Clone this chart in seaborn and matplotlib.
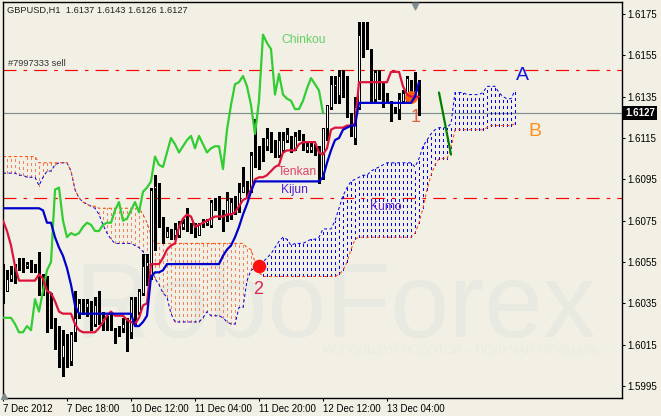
import numpy as np
import pandas as pd
import matplotlib
matplotlib.use("Agg")
import matplotlib.pyplot as plt
import seaborn as sns

# prices are kept as the last four digits, 6127 means 1.6127
opens = [6048,6041,6047,6050,6055,6055,6053,6054,6053,6053,
         6047,6040,6036,6027,6023,6009,6016,6007,6021,6030,
         6035,6033,6036,6025,6037,6026,6027,6028,6023,6022,
         6023,6026,6021,6036,6031,6040,6053,6048,6091,6093,
         6073,6067,6069,6068,6068,6072,6077,6073,6072,6068,
         6074,6074,6073,6084,6086,6077,6078,6078,6084,6083,
         6089,6091,6091,6106,6103,6111,6111,6114,6112,6107,
         6109,6114,6116,6110,6118,6116,6109,6109,6110,6111,
         6096,6120,6130,6140,6136,6145,6142,6126,6115,6130,
         6164,6161,6157,6134,6147,6138,6135,6132,6129,6129,
         6133,6136,6142,6135,6137]
highs = [6054,6051,6053,6054,6057,6057,6055,6056,6054,6060,
         6049,6048,6040,6028,6024,6022,6020,6021,6041,6037,
         6037,6037,6036,6038,6041,6031,6029,6031,6023,6024,
         6028,6028,6038,6038,6042,6059,6059,6091,6097,6093,
         6077,6072,6071,6074,6075,6076,6081,6074,6074,6074,
         6076,6076,6085,6086,6087,6080,6089,6086,6087,6093,
         6101,6094,6108,6124,6111,6115,6120,6118,6114,6118,
         6118,6120,6116,6118,6119,6117,6113,6113,6112,6111,
         6120,6131,6145,6145,6148,6148,6145,6127,6135,6171,
         6171,6171,6158,6148,6148,6142,6137,6133,6130,6137,
         6138,6145,6143,6147,6143]
lows = [6035,6041,6046,6045,6051,6050,6052,6050,6050,6039,
        6039,6021,6023,6013,6004,6000,6004,6005,6017,6028,
        6030,6029,6022,6024,6025,6022,6022,6022,6016,6019,
        6021,6012,6018,6025,6030,6039,6044,6047,6061,6072,
        6064,6067,6066,6066,6067,6071,6070,6069,6067,6068,
        6072,6073,6072,6080,6076,6070,6075,6076,6078,6079,
        6089,6086,6089,6101,6100,6104,6109,6108,6106,6106,
        6108,6113,6108,6109,6114,6109,6108,6108,6107,6093,
        6095,6114,6129,6132,6132,6135,6125,6116,6112,6129,
        6154,6158,6133,6133,6134,6130,6133,6123,6127,6124,
        6132,6132,6135,6134,6126]
closes = [6040,6047,6049,6049,6053,6051,6054,6052,6052,6045,
          6043,6036,6028,6021,6008,6015,6007,6020,6028,6035,
          6033,6035,6024,6034,6027,6028,6025,6023,6021,6021,
          6025,6021,6037,6030,6041,6053,6055,6090,6092,6073,
          6066,6070,6067,6071,6072,6074,6073,6070,6069,6073,
          6074,6075,6084,6084,6077,6074,6085,6084,6079,6089,
          6092,6091,6107,6101,6100,6111,6115,6110,6107,6114,
          6114,6117,6109,6116,6115,6110,6111,6111,6110,6095,
          6120,6131,6141,6141,6145,6142,6126,6121,6130,6165,
          6160,6158,6136,6147,6137,6134,6134,6129,6128,6134,
          6137,6144,6138,6138,6127]
tenkan = [6075,6070,6063,6053,6046,6046,6046,6046,6046,6049,
          6047,6041,6040,6036,6031,6030,6030,6030,6025,6022,
          6021,6021,6021,6021,6023,6026,6029,6031,6029,6029,
          6029,6027,6026,6025,6028,6034,6035,6054,6054,6054,
          6057,6061,6063,6064,6072,6076,6078,6077,6072,6073,
          6074,6075,6076,6077,6077,6077,6078,6078,6079,6082,
          6085,6086,6090,6095,6096,6096,6097,6099,6101,6102,
          6108,6109,6109,6109,6112,6113,6113,6113,6113,6108,
          6107,6110,6119,6120,6120,6120,6121,6121,6122,6142,
          6142,6142,6142,6142,6142,6142,6142,6147,6147,6147,
          6140,6136,6135,6135,6135]
kijun = [6081,6081,6081,6081,6081,6081,6081,6081,6081,6081,
         6080,6074,6074,6067,6062,6058,6052,6044,6034,6030,
         6030,6030,6030,6030,6030,6030,6030,6030,6030,6030,
         6030,6030,6030,6024,6024,6026,6029,6048,6050,6050,
         6051,6054,6054,6054,6054,6054,6054,6054,6054,6054,
         6054,6054,6054,6054,6054,6058,6061,6063,6067,6072,
         6078,6083,6089,6094,6094,6094,6094,6094,6094,6094,
         6094,6094,6094,6094,6094,6094,6094,6094,6094,6094,
         6096,6103,6109,6114,6115,6119,6120,6121,6121,6132,
         6132,6132,6132,6132,6132,6132,6132,6132,6132,6132,
         6132,6132,6132,6135,6142]
chinkou = [6028,6028,6028,6025,6021,6021,6024,6022,6037,6031,
           6041,6051,6055,6090,6091,6075,6067,6069,6068,6069,
           6072,6074,6073,6070,6070,6073,6074,6074,6080,6084,
           6075,6076,6080,6084,6079,6089,6091,6094,6106,6102,
           6101,6108,6115,6112,6108,6111,6114,6116,6110,6116,
           6112,6108,6110,6111,6111,6100,6119,6131,6141,6142,
           6145,6140,6131,6117,6133,6165,6161,6158,6136,6146,
           6136,6134,6133,6129,6129,6133,6139,6144,6141,6138,
           6127]
senkou_a = [6098,6098,6098,6098,6097,6097,6096,6096,6096,6092,
            6096,6099,6099,6102,6103,6103,6103,6099,6090,6086,
            6084,6083,6082,6081,6078,6073,6069,6066,6064,6064,
            6064,6064,6064,6063,6062,6060,6058,6052,6047,6044,
            6040,6038,6030,6026,6026,6026,6026,6026,6026,6026,
            6028,6031,6029,6029,6029,6028,6026,6025,6025,6033,
            6033,6046,6051,6052,6053,6055,6057,6059,6062,6065,
            6067,6066,6063,6064,6064,6064,6065,6066,6066,6067,
            6071,6071,6071,6075,6081,6087,6091,6094,6095,6096,
            6097,6097,6099,6100,6101,6102,6103,6103,6103,6103,
            6103,6103,6103,6101,6105,6111,6114,6117,6119,6120,
            6120,6120,6122,6137,6137,6137,6136,6136,6136,6136,
            6137,6140,6140,6140,6137,6135,6134,6134,6138]
senkou_b = [6106,6106,6106,6106,6106,6106,6106,6106,6106,6103,
            6103,6103,6103,6103,6103,6103,6103,6099,6090,6086,
            6084,6083,6082,6082,6081,6081,6081,6081,6081,6081,
            6081,6081,6081,6081,6081,6078,6074,6068,6064,6064,
            6064,6064,6064,6064,6064,6064,6064,6064,6064,6064,
            6064,6064,6064,6064,6064,6064,6064,6064,6064,6064,
            6064,6062,6061,6055,6050,6048,6048,6048,6048,6048,
            6048,6048,6048,6048,6048,6048,6048,6048,6048,6048,
            6048,6048,6048,6048,6049,6051,6055,6061,6066,6067,
            6067,6067,6067,6067,6067,6067,6067,6067,6067,6067,
            6067,6067,6067,6069,6074,6081,6090,6097,6102,6105,
            6105,6105,6110,6119,6119,6119,6119,6119,6119,6119,
            6119,6120,6121,6121,6121,6121,6121,6121,6122]
level_lines = [6147.7, 6086.1]
last_price = 6127
pen_x = [109, 112]
pen_y = [6137, 6107]
dot_2 = (64, 6053)
dot_1 = (102, 6135)

y_ticks = [6175, 6155, 6135, 6115, 6095, 6075, 6055, 6035, 6015, 5995]
x_ticks = [0, 16, 32, 48, 64, 80, 96]
x_labels = ["7 Dec 2012", "7 Dec 18:00", "10 Dec 12:00", "11 Dec 04:00",
            "11 Dec 20:00", "12 Dec 12:00", "13 Dec 04:00"]

W, H = 661, 416
BG = "#F2F0E4"
FONT = "Liberation Sans"


def price(values):
    return 1 + np.asarray(values, dtype=float) / 1e4


def px_text(fig, ax, x, y, s, **kw):
    ax.text(x / W, 1 - y / H, s, transform=fig.transFigure, family=FONT, **kw)


def draw_candles(ax):
    df = pd.DataFrame({"o": price(opens), "h": price(highs), "l": price(lows), "c": price(closes)})
    df["bar"] = df.index
    ax.vlines(df["bar"], df["l"], df["h"], colors="black", lw=0.75, zorder=3, antialiased=False)
    up = df[df["c"] >= df["o"]]
    down = df[df["c"] < df["o"]]
    ax.bar(up["bar"], up["c"] - up["o"], bottom=up["o"], width=0.62, facecolor="white",
           edgecolor="black", lw=0.72, zorder=4)
    ax.bar(down["bar"], down["o"] - down["c"], bottom=down["c"], width=0.62, facecolor="black",
           edgecolor="black", lw=0.72, zorder=4)


def draw_cloud(ax):
    a = price(senkou_a)
    b = price(senkou_b)
    bars = np.arange(len(a))
    above = a >= b
    # aliased on purpose, the smoothed dashes came out nearly black
    ax.vlines(bars[above], b[above], a[above], colors="#0000FF", lw=0.72,
              linestyles=(0, (2.2, 3.8)), zorder=2, antialiased=False)
    ax.vlines(bars[~above], a[~above], b[~above], colors="#F5805A", lw=0.72,
              linestyles=(0, (2.2, 3.8)), zorder=2, antialiased=False)
    sns.lineplot(x=bars, y=a, ax=ax, color="#0000E8", lw=0.72, linestyle=(0, (3, 2.5)), zorder=2.5)
    sns.lineplot(x=bars, y=b, ax=ax, color="#FF4500", lw=0.72, linestyle=(0, (3, 2.5)), zorder=2.5)


def main():
    sns.set_theme(style="white", rc={"axes.facecolor": BG, "figure.facecolor": BG})
    plt.rcParams["font.family"] = [FONT, "DejaVu Sans"]

    fig = plt.figure(figsize=(W / 100, H / 100), dpi=100)
    ax = fig.add_axes([2.5 / W, (H - 398) / H, 619 / W, 396 / H])

    # watermark sits under everything else
    px_text(fig, ax, 74, 337, "RoboForex", color="#E8E9E0", fontsize=76, zorder=0, va="baseline")
    px_text(fig, ax, 323, 351, "ИСПОЛЬЗУЙ РОБОТОВ – ПОЛУЧАЙ ПРИБЫЛЬ", color="#EBECE1",
            fontsize=8.8, zorder=0, va="center")

    for lvl in level_lines:
        ax.axhline(price(lvl), color="#FF0000", lw=0.85, linestyle=(0, (11, 6, 3, 6)), zorder=1.5)
    ax.axhline(price(last_price), color="#7F8C90", lw=0.85, zorder=1.5)

    draw_cloud(ax)
    draw_candles(ax)

    sns.lineplot(x=np.arange(len(chinkou)), y=price(chinkou), ax=ax, color="#32CD32", lw=1.6, zorder=5)
    sns.lineplot(x=np.arange(len(tenkan)), y=price(tenkan), ax=ax, color="#DC143C", lw=1.6, zorder=6)
    sns.lineplot(x=np.arange(len(kijun)), y=price(kijun), ax=ax, color="#0000CD", lw=1.6, zorder=7)
    sns.lineplot(x=pen_x, y=price(pen_y), ax=ax, color="#008000", lw=1.6, zorder=7)

    sns.scatterplot(x=[dot_2[0]], y=price([dot_2[1]]), ax=ax, color="#FF1010", s=95, lw=0, zorder=8)
    sns.scatterplot(x=[dot_1[0]], y=price([dot_1[1]]), ax=ax, color="#FF5A0A", s=85, lw=0, zorder=5.5)

    ax.set_xlim(-0.125, 154.625)
    ax.set_ylim(1.59892, 1.61808)
    ax.yaxis.tick_right()
    ax.set_yticks(price(y_ticks))
    ax.set_yticklabels([f"{1 + t / 1e4:.4f}" for t in y_ticks], fontsize=7, color="black")
    ax.set_xticks(x_ticks)
    ax.set_xticklabels(x_labels, fontsize=7, color="black", ha="left")
    ax.tick_params(axis="both", length=2.5, width=0.75, color="black", pad=1.5, bottom=True, right=True, left=False)
    ax.set_xlabel("")
    ax.set_ylabel("")
    for spine in ax.spines.values():
        spine.set_color("black")
        spine.set_linewidth(1.0)

    px_text(fig, ax, 7, 10, "GBPUSD,H1  1.6137 1.6143 1.6126 1.6127", fontsize=6.7, color="#222222", va="center", zorder=9)
    px_text(fig, ax, 8, 64, "#7997333 sell", fontsize=6.7, color="#333333", va="center", zorder=9)
    px_text(fig, ax, 281, 40, "Chinkou", fontsize=8.7, color="#66D066", va="center", zorder=9)
    px_text(fig, ax, 278, 172, "Tenkan", fontsize=8.7, color="#DC4468", va="center", zorder=9)
    px_text(fig, ax, 281, 190, "Kijun", fontsize=8.7, color="#5A20D8", va="center", zorder=9)
    px_text(fig, ax, 370, 207, "Kumo", fontsize=8.7, color="#5A20D8", va="center", zorder=9)
    px_text(fig, ax, 411, 117, "1", fontsize=13, color="#E0603C", va="center", zorder=9)
    px_text(fig, ax, 253, 290, "2", fontsize=13, color="#DC2850", va="center", zorder=9)
    px_text(fig, ax, 515.5, 75, "A", fontsize=14, color="#1414E0", va="center", zorder=9)
    px_text(fig, ax, 528.5, 132, "B", fontsize=14, color="#FF9020", va="center", zorder=9)

    # black price tag on the axis
    ax.text(625 / W, 1 - 113 / H, "1.6127", transform=fig.transFigure, family=FONT, fontsize=7,
            fontweight="bold", color="white", va="center", ha="left", zorder=10, clip_on=False,
            bbox=dict(boxstyle="square,pad=0.25", facecolor="black", edgecolor="black", lw=0))

    # little grey shift markers of the terminal
    ax.scatter([0.3], [1.5990], marker="^", s=18, color="#7F8C90", zorder=9, clip_on=False)
    ax.scatter([103], [1.6179], marker="v", s=22, color="#7F8C90", zorder=9, clip_on=False)

    fig.savefig("out.png", dpi=100, facecolor=BG)


if __name__ == "__main__":
    main()
